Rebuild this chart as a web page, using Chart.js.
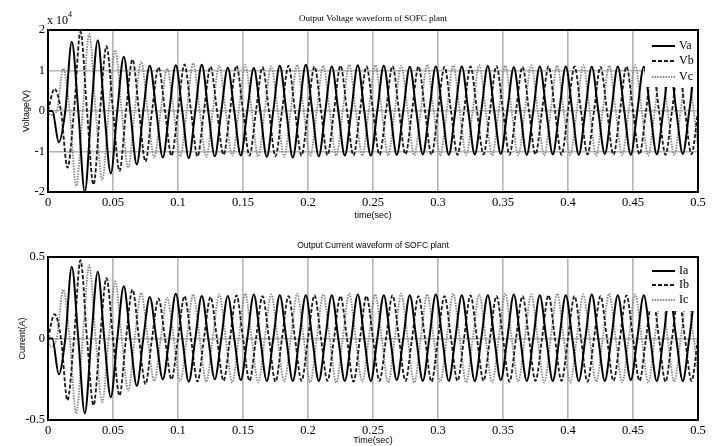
<!DOCTYPE html>
<html>
<head>
<meta charset="utf-8">
<title>Output waveforms of SOFC plant</title>
<script src="https://cdn.jsdelivr.net/npm/chart.js@4.4.1/dist/chart.umd.min.js"></script>
<style>
    html, body { margin: 0; padding: 0; background: #fff; }
    .chart { display: block; }
</style>
</head>
<body>
<canvas class="chart chart--voltage" width="716" height="223"></canvas>
<canvas class="chart chart--current" width="716" height="223"></canvas>
<script>
(function() {

    // 50 Hz supply -> one extremum every 10 ms
    let HALF_PERIOD = 0.01;

    let timeTicks = [0, 0.05, 0.1, 0.15, 0.2, 0.25, 0.3, 0.35, 0.4, 0.45, 0.5];
    let timeTickLabels = ['0', '0.05', '0.1', '0.15', '0.2', '0.25', '0.3', '0.35', '0.4', '0.45', '0.5'];

    let voltageTicks = [-2, -1, 0, 1, 2];
    let voltageTickLabels = ['-2', '-1', '0', '1', '2'];

    let currentTicks = [-0.5, 0, 0.5];
    let currentTickLabels = ['-0.5', '0', '0.5'];

    // time (sec) of the first peak / trough of each phase
    let phaseStart = { a: 0.0083, b: 0.005, c: 0.0017 };

    // successive peaks and troughs, voltage in units of 10^4 V
    let vaPeaks = [-0.77, 1.71, -2.0, 1.75, -1.54, 1.34, -1.32, 1.12, -1.15, 1.13,
        -1.16, 1.14, -1.12, 1.07, -1.1, 1.06, -1.13, 1.12, -1.15, 1.14,
        -1.12, 1.1, -1.1, 1.13, -1.1, 1.12, -1.08, 1.09, -1.07, 1.1,
        -1.08, 1.1, -1.07, 1.11, -1.06, 1.08, -1.08, 1.1, -1.07, 1.1,
        -1.08, 1.09, -1.06, 1.1, -1.08, 1.09, -1.07, 1.1, -1.06, 1.08, -1.07];

    let vbPeaks = [0.55, -1.4, 1.96, -1.82, 1.6, -1.48, 1.27, -1.25, 1.08, -1.1,
        1.15, -1.12, 1.1, -1.08, 1.12, -1.1, 1.08, -1.12, 1.12, -1.1,
        1.1, -1.09, 1.12, -1.1, 1.1, -1.08, 1.11, -1.07, 1.1, -1.08,
        1.09, -1.08, 1.1, -1.07, 1.11, -1.08, 1.09, -1.07, 1.1, -1.08,
        1.1, -1.07, 1.09, -1.08, 1.1, -1.07, 1.09, -1.08, 1.1, -1.07, 1.09];

    let vcPeaks = [-0.1, 1.05, -1.85, 1.9, -1.7, 1.5, -1.4, 1.22, -1.15, 1.05,
        -1.12, 1.18, -1.14, 1.12, -1.1, 1.14, -1.12, 1.1, -1.13, 1.14,
        -1.11, 1.12, -1.1, 1.14, -1.1, 1.13, -1.1, 1.12, -1.09, 1.14,
        -1.1, 1.12, -1.09, 1.13, -1.1, 1.12, -1.09, 1.13, -1.1, 1.12,
        -1.09, 1.13, -1.1, 1.12, -1.09, 1.13, -1.1, 1.12, -1.09, 1.13, -1.1];

    // successive peaks and troughs, current in A
    let iaPeaks = [-0.22, 0.44, -0.46, 0.41, -0.36, 0.32, -0.29, 0.255, -0.25, 0.275,
        -0.265, 0.26, -0.25, 0.26, -0.255, 0.27, -0.26, 0.265, -0.26, 0.265,
        -0.26, 0.265, -0.26, 0.27, -0.26, 0.265, -0.255, 0.265, -0.26, 0.27,
        -0.26, 0.265, -0.26, 0.265, -0.255, 0.27, -0.26, 0.265, -0.26, 0.265,
        -0.26, 0.27, -0.26, 0.265, -0.255, 0.265, -0.26, 0.265, -0.26, 0.265, -0.26];

    let ibPeaks = [0.15, -0.38, 0.48, -0.41, 0.37, -0.35, 0.3, -0.28, 0.245, -0.25,
        0.26, -0.265, 0.255, -0.26, 0.265, -0.26, 0.26, -0.265, 0.26, -0.26,
        0.265, -0.26, 0.26, -0.265, 0.26, -0.26, 0.265, -0.26, 0.26, -0.265,
        0.26, -0.26, 0.265, -0.26, 0.26, -0.265, 0.26, -0.26, 0.265, -0.26,
        0.26, -0.265, 0.26, -0.26, 0.265, -0.26, 0.26, -0.265, 0.26, -0.26, 0.265];

    let icPeaks = [-0.05, 0.3, -0.46, 0.45, -0.39, 0.35, -0.32, 0.28, -0.26, 0.25,
        -0.26, 0.27, -0.265, 0.27, -0.27, 0.275, -0.27, 0.27, -0.265, 0.275,
        -0.27, 0.27, -0.27, 0.275, -0.265, 0.27, -0.27, 0.275, -0.27, 0.27,
        -0.265, 0.275, -0.27, 0.27, -0.27, 0.275, -0.265, 0.27, -0.27, 0.275,
        -0.27, 0.27, -0.265, 0.275, -0.27, 0.27, -0.27, 0.275, -0.265, 0.27, -0.27];

    let phaseStyles = [
        { borderColor: '#000', borderWidth: 2, borderDash: [] },
        { borderColor: '#1a1a1a', borderWidth: 1.8, borderDash: [4, 2] },
        { borderColor: '#858585', borderWidth: 1.8, borderDash: [1.5, 1.2] }
    ];

    /**
     * Turns a list of read peaks into points: zero crossing between each extremum
     */
    let buildWave = (start, peaks) => {
        let pts = [{ x: 0, y: 0 }];

        peaks.forEach((p, i) => {
            let t = start + i * HALF_PERIOD;
            let zero = t - HALF_PERIOD / 2;
            if (zero > 0) {
                pts.push({ x: zero, y: 0 });
            }
            pts.push({ x: t, y: p });
        });

        pts.push({ x: start + (peaks.length - 0.5) * HALF_PERIOD, y: 0 });
        return pts;
    };

    let makeDatasets = (labels, waves) => waves.map((w, i) => Object.assign({
        label: labels[i],
        data: buildWave(w.start, w.peaks),
        pointRadius: 0,
        fill: false,
        cubicInterpolationMode: 'monotone'
    }, phaseStyles[i]));

    /**
     * Frame, titles and the inset legend that MATLAB draws inside the axes
     */
    let framePlugin = {
        id: 'sofcFrame',
        afterDatasetsDraw(chart, args, opts) {
            let { ctx, chartArea: a } = chart;
            ctx.save();

            // legend box hides the tops of the waves under it
            ctx.fillStyle = '#fff';
            ctx.fillRect(opts.legendLeft, a.top, a.right - opts.legendLeft, opts.legendBottom - a.top);

            chart.data.datasets.forEach((ds, i) => {
                let y = opts.legendRows[i];
                ctx.beginPath();
                ctx.setLineDash(ds.borderDash);
                ctx.strokeStyle = ds.borderColor;
                ctx.lineWidth = ds.borderWidth;
                ctx.moveTo(652, y);
                ctx.lineTo(675, y);
                ctx.stroke();
                ctx.setLineDash([]);

                ctx.fillStyle = '#000';
                ctx.font = '12px "Liberation Serif"';
                ctx.textAlign = 'left';
                ctx.textBaseline = 'middle';
                ctx.fillText(ds.label, 679, y);
            });

            ctx.strokeStyle = '#000';
            ctx.lineWidth = 2;
            ctx.strokeRect(a.left, a.top, a.right - a.left, a.bottom - a.top);

            ctx.fillStyle = '#000';
            ctx.font = opts.titleFont;
            ctx.textAlign = 'center';
            ctx.textBaseline = 'middle';
            ctx.fillText(opts.title, (a.left + a.right) / 2, opts.titleY);

            if (opts.exponent) {
                ctx.textAlign = 'left';
                ctx.font = '12px "Liberation Serif"';
                ctx.fillText('x 10', 47, 21);
                ctx.font = '8px "Liberation Serif"';
                ctx.fillText(opts.exponent, 68, 15);
            }

            ctx.restore();
        }
    };

    let tickFont = { family: '"Liberation Serif", serif', size: 12.5 };
    let gridStyle = { color: '#b4b4b4', lineWidth: 1.6, drawTicks: false };

    let buildOptions = cfg => ({
        responsive: false,
        animation: false,
        events: [],
        layout: { padding: { top: cfg.top, right: 18, left: 0, bottom: 0 } },
        plugins: {
            legend: { display: false },
            tooltip: { enabled: false },
            sofcFrame: cfg.frame
        },
        scales: {
            x: {
                type: 'linear',
                min: 0,
                max: 0.5,
                grid: gridStyle,
                border: { display: false },
                afterBuildTicks: scale => { scale.ticks = timeTicks.map(v => ({ value: v })); },
                afterFit: scale => { scale.height = cfg.xHeight; },
                ticks: {
                    font: tickFont,
                    color: '#000',
                    padding: 3,
                    maxRotation: 0,
                    callback: (v, i) => timeTickLabels[i]
                },
                title: {
                    display: true,
                    text: cfg.xTitle,
                    color: '#000',
                    font: { family: '"Liberation Sans", sans-serif', size: 9 },
                    padding: { top: 0, bottom: cfg.xTitlePad }
                }
            },
            y: {
                type: 'linear',
                min: cfg.yTicks[0],
                max: cfg.yTicks[cfg.yTicks.length - 1],
                grid: gridStyle,
                border: { display: false },
                afterBuildTicks: scale => { scale.ticks = cfg.yTicks.map(v => ({ value: v })); },
                afterFit: scale => { scale.width = 48; },
                ticks: {
                    font: tickFont,
                    color: '#000',
                    padding: 3,
                    callback: (v, i) => cfg.yLabels[i]
                },
                title: {
                    display: true,
                    text: cfg.yTitle,
                    color: '#000',
                    font: { family: '"Liberation Sans", sans-serif', size: 9 },
                    padding: { top: cfg.yTitlePad, bottom: 0 }
                }
            }
        }
    });

    let init = () => {
        new Chart(document.querySelector('.chart--voltage'), {
            type: 'line',
            data: {
                datasets: makeDatasets(['Va', 'Vb', 'Vc'], [
                    { start: phaseStart.a, peaks: vaPeaks },
                    { start: phaseStart.b, peaks: vbPeaks },
                    { start: phaseStart.c, peaks: vcPeaks }
                ])
            },
            options: buildOptions({
                top: 30,
                xHeight: 31,
                xTitle: 'time(sec)',
                xTitlePad: 1.6,
                yTitle: 'Voltage(V)',
                yTitlePad: 21.6,
                yTicks: voltageTicks,
                yLabels: voltageTickLabels,
                frame: {
                    title: 'Output Voltage waveform of SOFC plant',
                    titleFont: '9px "Liberation Serif"',
                    titleY: 19,
                    exponent: '4',
                    legendLeft: 645,
                    legendBottom: 87,
                    legendRows: [46, 61, 77]
                }
            }),
            plugins: [framePlugin]
        });

        new Chart(document.querySelector('.chart--current'), {
            type: 'line',
            data: {
                datasets: makeDatasets(['Ia', 'Ib', 'Ic'], [
                    { start: phaseStart.a, peaks: iaPeaks },
                    { start: phaseStart.b, peaks: ibPeaks },
                    { start: phaseStart.c, peaks: icPeaks }
                ])
            },
            options: buildOptions({
                top: 34,
                xHeight: 26,
                xTitle: 'Time(sec)',
                xTitlePad: 0,
                yTitle: 'Current(A)',
                yTitlePad: 17.6,
                yTicks: currentTicks,
                yLabels: currentTickLabels,
                frame: {
                    title: 'Output Current waveform of SOFC plant',
                    titleFont: '8.5px "Liberation Sans"',
                    titleY: 23,
                    exponent: null,
                    legendLeft: 648,
                    legendBottom: 88,
                    legendRows: [48, 62, 77]
                }
            }),
            plugins: [framePlugin]
        });
    };

    window.addEventListener('DOMContentLoaded', init);

})()
</script>
</body>
</html>
